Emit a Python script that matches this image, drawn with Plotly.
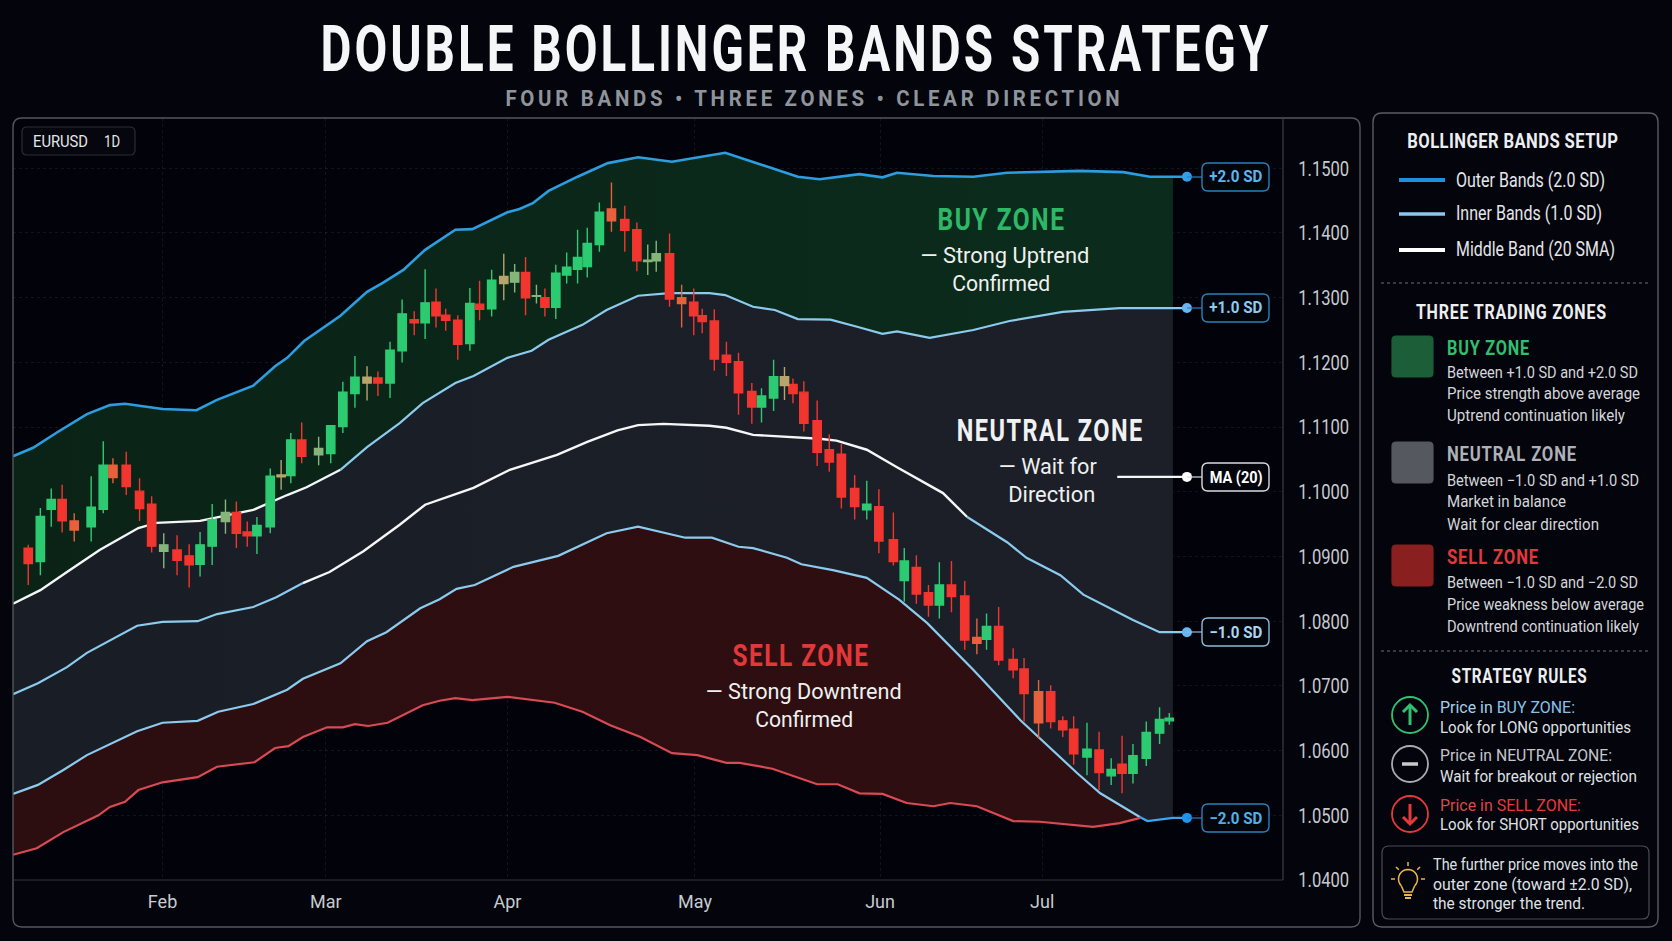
import json
import math
import plotly.graph_objects as go

WIDTH, HEIGHT = 1672, 941
BG = "#03040c"
FONT = "Roboto, sans-serif"

# Price scale and month ticks (x is measured in sessions from the first candle)
price_ticks = [1.04, 1.05, 1.06, 1.07, 1.08, 1.09, 1.10, 1.11, 1.12, 1.13, 1.14, 1.15]
month_pos = [11.1, 24.6, 39.6, 55.1, 70.4, 83.8]
month_labels = ["Feb", "Mar", "Apr", "May", "Jun", "Jul"]

# Candles
candle_pos = [0.0, 1.0, 1.9, 2.8, 3.8, 5.2, 6.2, 7.0, 8.1, 9.2, 10.2, 11.2, 12.3, 13.3, 14.2, 15.2, 16.3, 17.2, 18.1, 18.9,
              20.0, 20.9, 21.7, 22.6, 24.0, 25.0, 26.0, 27.0, 28.0, 28.9, 29.9, 30.9, 31.9, 32.8, 33.7, 34.5, 35.5, 36.5, 37.3, 38.3,
              39.3, 40.2, 41.1, 42.0, 42.7, 43.6, 44.5, 45.4, 46.2, 47.2, 48.2, 49.3, 50.3, 51.2, 51.9, 53.0, 54.0, 55.0, 55.7, 56.7,
              57.7, 58.7, 59.8, 60.6, 61.6, 62.5, 63.2, 64.1, 65.2, 66.2, 67.2, 68.3, 69.3, 70.3, 71.5, 72.4, 73.4, 74.4, 75.3, 76.3,
              77.4, 78.4, 79.2, 80.2, 81.4, 82.3, 83.5, 84.5, 85.5, 86.4, 87.5, 88.5, 89.5, 90.4, 91.3, 92.4, 93.5, 94.3]
candle_high = [1.0918, 1.0975, 1.1005, 1.1011, 1.0967, 1.1024, 1.1078, 1.1052, 1.1062, 1.1021, 1.0993, 1.0936, 1.0933, 1.0919, 1.0938, 1.0981, 1.0988, 1.0985, 1.0954, 1.0961,
               1.1036, 1.1049, 1.1091, 1.1107, 1.1085, 1.1103, 1.1170, 1.1210, 1.1194, 1.1186, 1.1232, 1.1297, 1.1279, 1.1344, 1.1314, 1.1283, 1.1273, 1.1315, 1.1326, 1.1343,
               1.1368, 1.1352, 1.1363, 1.1320, 1.1314, 1.1351, 1.1370, 1.1405, 1.1408, 1.1447, 1.1478, 1.1442, 1.1416, 1.1382, 1.1388, 1.1399, 1.1320, 1.1314, 1.1283, 1.1282,
               1.1232, 1.1215, 1.1168, 1.1160, 1.1204, 1.1193, 1.1175, 1.1171, 1.1141, 1.1089, 1.1074, 1.1026, 1.1017, 1.1004, 1.0968, 1.0913, 1.0902, 1.0856, 1.0891, 1.0893,
               1.0862, 1.0804, 1.0812, 1.0822, 1.0758, 1.0743, 1.0709, 1.0701, 1.0653, 1.0653, 1.0643, 1.0629, 1.0588, 1.0623, 1.0610, 1.0645, 1.0667, 1.0658]
candle_top = [1.0913, 1.0962, 1.0988, 1.0988, 1.0955, 1.0976, 1.1041, 1.1041, 1.1041, 1.1001, 1.0981, 1.0918, 1.0910, 1.0901, 1.0918, 1.0957, 1.0968, 1.0968, 1.0938, 1.0948,
              1.1024, 1.1026, 1.1080, 1.1080, 1.1067, 1.1102, 1.1154, 1.1177, 1.1177, 1.1176, 1.1219, 1.1275, 1.1266, 1.1292, 1.1293, 1.1273, 1.1265, 1.1291, 1.1290, 1.1327,
              1.1333, 1.1339, 1.1339, 1.1303, 1.1300, 1.1338, 1.1347, 1.1362, 1.1384, 1.1432, 1.1437, 1.1421, 1.1405, 1.1358, 1.1368, 1.1368, 1.1300, 1.1293, 1.1272, 1.1264,
              1.1211, 1.1201, 1.1155, 1.1148, 1.1178, 1.1178, 1.1166, 1.1154, 1.1110, 1.1065, 1.1058, 1.1005, 1.0981, 1.0977, 1.0926, 1.0893, 1.0883, 1.0844, 1.0856, 1.0856,
              1.0839, 1.0775, 1.0792, 1.0792, 1.0741, 1.0726, 1.0691, 1.0691, 1.0646, 1.0633, 1.0602, 1.0601, 1.0571, 1.0579, 1.0592, 1.0628, 1.0648, 1.0650]
candle_bottom = [1.0889, 1.0892, 1.0973, 1.0955, 1.0941, 1.0946, 1.0973, 1.1022, 1.1008, 1.0974, 1.0916, 1.0908, 1.0894, 1.0887, 1.0888, 1.0916, 1.0954, 1.0936, 1.0932, 1.0932,
                 1.0946, 1.1023, 1.1025, 1.1055, 1.1057, 1.1059, 1.1101, 1.1152, 1.1168, 1.1168, 1.1168, 1.1218, 1.1261, 1.1261, 1.1272, 1.1265, 1.1228, 1.1229, 1.1282, 1.1283,
                 1.1322, 1.1324, 1.1300, 1.1302, 1.1285, 1.1285, 1.1335, 1.1344, 1.1348, 1.1382, 1.1419, 1.1404, 1.1357, 1.1356, 1.1357, 1.1298, 1.1291, 1.1272, 1.1263, 1.1205,
                 1.1200, 1.1153, 1.1131, 1.1131, 1.1145, 1.1164, 1.1152, 1.1106, 1.1061, 1.1046, 1.0992, 1.0977, 1.0972, 1.0924, 1.0892, 1.0863, 1.0842, 1.0825, 1.0825, 1.0838,
                 1.0771, 1.0766, 1.0772, 1.0740, 1.0725, 1.0688, 1.0643, 1.0645, 1.0632, 1.0595, 1.0590, 1.0566, 1.0561, 1.0565, 1.0565, 1.0588, 1.0627, 1.0646]
candle_low = [1.0856, 1.0871, 1.0946, 1.0937, 1.0923, 1.0923, 1.0967, 1.1013, 1.0995, 1.0955, 1.0906, 1.0882, 1.0871, 1.0852, 1.0869, 1.0887, 1.0935, 1.0913, 1.0915, 1.0904,
              1.0936, 1.1003, 1.1013, 1.1044, 1.1041, 1.1044, 1.1091, 1.1130, 1.1141, 1.1148, 1.1145, 1.1200, 1.1242, 1.1236, 1.1254, 1.1249, 1.1204, 1.1218, 1.1265, 1.1271,
              1.1296, 1.1308, 1.1273, 1.1291, 1.1271, 1.1267, 1.1322, 1.1322, 1.1331, 1.1371, 1.1402, 1.1371, 1.1341, 1.1335, 1.1340, 1.1286, 1.1254, 1.1242, 1.1245, 1.1187,
              1.1179, 1.1119, 1.1105, 1.1107, 1.1125, 1.1142, 1.1137, 1.1093, 1.1040, 1.1031, 1.0974, 1.0957, 1.0957, 1.0905, 1.0886, 1.0830, 1.0827, 1.0807, 1.0804, 1.0814,
              1.0756, 1.0749, 1.0756, 1.0732, 1.0712, 1.0645, 1.0619, 1.0634, 1.0621, 1.0578, 1.0562, 1.0539, 1.0547, 1.0534, 1.0549, 1.0576, 1.0610, 1.0640]
candle_tone = list(
    "rggroggorr" "rsrrggsrrg" "gtgrsgggtr" "ggrgrrrgrg" "tsrsrggggg"
    "orrssrorrr" "rrrggtrrrr" "rrgrrgrrgr" "rogrrrorrr" "grgrgggg"
)

# Band readings: session position and price for each of the five lines
upper_outer_x = [-1.26, 0.4, 2.4, 4.85, 6.75, 8.0, 11.1, 13.9, 15.6, 18.6, 20.4, 21.4, 22.8, 25.8, 28.0, 29.3, 31.0, 32.8, 35.3, 36.7,
                 39.6, 40.6, 41.7, 43.0, 45.4, 47.9, 50.4, 53.2, 57.6, 61.9, 63.6, 65.4, 68.7, 70.6, 71.8, 74.8, 78.1, 80.9, 86.9, 90.5, 92.7, 94.6, 95.76]
upper_outer_y = [1.1055, 1.1068, 1.1092, 1.1120, 1.1134, 1.1136, 1.1128, 1.1126, 1.1142, 1.1164, 1.1194, 1.1207, 1.1233, 1.1272, 1.1309, 1.1323, 1.1343, 1.1374, 1.1405, 1.1406,
                 1.1432, 1.1437, 1.1446, 1.1465, 1.1487, 1.1508, 1.1517, 1.1510, 1.1524, 1.1497, 1.1487, 1.1483, 1.1491, 1.1486, 1.1493, 1.1488, 1.1487, 1.1493, 1.1496, 1.1494, 1.1487, 1.1487, 1.1487]
upper_inner_x = [-1.26, 1.0, 3.2, 5.9, 9.1, 10.6, 14.2, 18.6, 21.4, 23.0, 25.8, 28.0, 29.6, 30.7, 32.6, 35.3, 36.8, 39.6, 41.6, 43.0,
                 45.8, 47.8, 50.4, 53.0, 56.3, 57.6, 59.9, 61.7, 63.6, 66.3, 68.5, 70.6, 71.8, 74.5, 78.1, 81.1, 85.5, 90.2, 93.5, 94.6, 95.76]
upper_inner_y = [1.0827, 1.0848, 1.0876, 1.0910, 1.0944, 1.0952, 1.0955, 1.0972, 1.0995, 1.1007, 1.1034, 1.1069, 1.1091, 1.1106, 1.1137, 1.1168, 1.1179, 1.1207, 1.1218, 1.1235,
                 1.1258, 1.1281, 1.1303, 1.1307, 1.1307, 1.1304, 1.1286, 1.1281, 1.1267, 1.1266, 1.1255, 1.1244, 1.1248, 1.1238, 1.1250, 1.1264, 1.1278, 1.1284, 1.1284, 1.1284, 1.1284]
middle_x = [-1.26, 0.8, 3.2, 4.85, 9.0, 11.1, 14.0, 15.6, 18.6, 20.5, 22.7, 24.9, 27.7, 30.7, 32.8, 35.1, 36.8, 39.8, 43.7, 46.2,
            48.7, 50.4, 52.5, 56.3, 57.7, 59.9, 63.2, 65.4, 66.8, 69.3, 71.8, 75.6, 77.6, 80.9, 82.5, 85.3, 87.2, 91.3, 93.5, 94.6, 95.76]
middle_y = [1.0687, 1.0704, 1.0729, 1.0751, 1.0793, 1.0799, 1.0800, 1.0811, 1.0822, 1.0837, 1.0859, 1.0876, 1.0908, 1.0949, 1.0980, 1.0995, 1.1006, 1.1034, 1.1057, 1.1077,
            1.1095, 1.1103, 1.1105, 1.1102, 1.1099, 1.1088, 1.1085, 1.1082, 1.1079, 1.1065, 1.1038, 1.0998, 1.0961, 1.0922, 1.0898, 1.0871, 1.0841, 1.0802, 1.0783, 1.0783, 1.0783]
lower_inner_x = [-1.26, 0.8, 2.9, 4.85, 9.0, 11.1, 14.0, 15.7, 18.6, 21.4, 22.7, 25.8, 28.0, 29.6, 32.4, 34.0, 35.4, 36.9, 40.1, 43.8,
                 47.8, 50.4, 54.3, 56.5, 58.7, 59.9, 62.7, 63.9, 66.5, 69.3, 72.0, 74.3, 78.1, 82.0, 86.7, 88.6, 91.9, 92.5, 94.6, 95.76]
lower_inner_y = [1.0533, 1.0547, 1.0570, 1.0593, 1.0630, 1.0643, 1.0646, 1.0660, 1.0672, 1.0694, 1.0711, 1.0735, 1.0769, 1.0783, 1.0820, 1.0834, 1.0850, 1.0856, 1.0884, 1.0901,
                 1.0936, 1.0946, 1.0929, 1.0929, 1.0915, 1.0913, 1.0898, 1.0888, 1.0879, 1.0867, 1.0833, 1.0797, 1.0725, 1.0647, 1.0565, 1.0534, 1.0497, 1.0491, 1.0496, 1.0496]
lower_outer_x = [-1.26, 0.7, 2.9, 4.5, 5.8, 6.75, 8.0, 9.1, 11.1, 14.0, 15.6, 18.7, 20.4, 21.5, 22.7, 24.7, 26.0, 27.0, 28.1, 29.7,
                 32.6, 34.0, 35.3, 36.7, 39.6, 43.5, 45.8, 48.1, 50.6, 53.2, 55.3, 57.7, 58.8, 61.5, 63.6, 65.2, 66.9, 68.7, 70.6, 72.6,
                 74.8, 76.2, 78.4, 81.4, 83.6, 88.0, 90.2, 91.9]
lower_outer_y = [1.0439, 1.0449, 1.0474, 1.0488, 1.0500, 1.0513, 1.0521, 1.0539, 1.0551, 1.0559, 1.0575, 1.0582, 1.0604, 1.0607, 1.0621, 1.0636, 1.0636, 1.0641, 1.0638, 1.0643,
                 1.0670, 1.0677, 1.0681, 1.0678, 1.0683, 1.0674, 1.0660, 1.0639, 1.0621, 1.0596, 1.0593, 1.0581, 1.0581, 1.0572, 1.0558, 1.0548, 1.0548, 1.0534, 1.0533, 1.0519,
                 1.0514, 1.0519, 1.0514, 1.0491, 1.0490, 1.0482, 1.0488, 1.0496]

ma_label_x = [90.0, 95.76]
ma_label_y = [1.1023, 1.1023]

# Limits of the shaded zones on the session scale
fill_end = 94.6
sell_end = 91.9
upper_inner_white_until = 25.8
middle_white_from = 22.7
middle_white_until = 77.6

C_OUTER, C_INNER, C_WHITE, C_SELL = "#2c9ee0", "#8ccbee", "#f4f6f8", "#d94a55"
TONES = {"g": "#2ccb72", "r": "#f2352f", "s": "#86b57c", "t": "#b7a56c", "o": "#e8603c"}
FALLING = {"r", "o"}


def px(x):
    return x / WIDTH


def py(y):
    return 1 - y / HEIGHT


def clip(xs, ys, limit):
    pairs = [(a, b) for a, b in zip(xs, ys) if a <= limit]
    return [p[0] for p in pairs], [p[1] for p in pairs]


def between(xs, ys, lo, hi):
    pairs = [(a, b) for a, b in zip(xs, ys) if lo <= a <= hi]
    return [p[0] for p in pairs], [p[1] for p in pairs]


fig = go.Figure()


def zone(xa, ya, xb, yb, left, right):
    fig.add_trace(go.Scatter(x=xa, y=ya, mode="lines", line=dict(width=0), hoverinfo="skip"))
    fig.add_trace(go.Scatter(x=xb, y=yb, mode="lines", line=dict(width=0), fill="tonexty", hoverinfo="skip",
                             fillgradient=dict(type="horizontal", colorscale=[[0, left], [1, right]])))


def band_line(xs, ys, color, width=2.2):
    fig.add_trace(go.Scatter(x=xs, y=ys, mode="lines", line=dict(color=color, width=width), hoverinfo="skip"))


zone(*clip(upper_outer_x, upper_outer_y, fill_end), *clip(upper_inner_x, upper_inner_y, fill_end), "#0a2316", "#0b2c1c")
zone(*clip(upper_inner_x, upper_inner_y, fill_end), *clip(lower_inner_x, lower_inner_y, fill_end), "#191e26", "#1c1f27")
zone(*clip(lower_inner_x, lower_inner_y, sell_end), *clip(lower_outer_x, lower_outer_y, sell_end), "#2d0e10", "#2e0e10")

band_line(upper_outer_x, upper_outer_y, C_OUTER, 2.6)
band_line(*between(upper_inner_x, upper_inner_y, -2, upper_inner_white_until), C_WHITE, 2.4)
band_line(*between(upper_inner_x, upper_inner_y, upper_inner_white_until, 99), C_INNER, 2.2)
band_line(*between(middle_x, middle_y, -2, middle_white_from), C_INNER, 2.2)
band_line(*between(middle_x, middle_y, middle_white_from, middle_white_until), C_WHITE, 2.4)
band_line(*between(middle_x, middle_y, middle_white_until, 99), C_INNER, 2.2)
band_line(*between(lower_inner_x, lower_inner_y, -2, sell_end), C_INNER, 2.2)
band_line(*between(lower_inner_x, lower_inner_y, sell_end, 99), "#3ca6ee", 2.4)
band_line(lower_outer_x, lower_outer_y, C_SELL, 2.2)
band_line(ma_label_x, ma_label_y, C_WHITE, 2.4)

# Line-end dots beside the band tags
for y_value, colour in [(upper_outer_y[-1], "#2f9ff0"), (upper_inner_y[-1], "#68b6f2"), (ma_label_y[-1], "#ffffff"),
                        (middle_y[-1], "#68b6f2"), (lower_inner_y[-1], "#1f95ee")]:
    fig.add_trace(go.Scatter(x=[95.76], y=[y_value], mode="markers",
                             marker=dict(color=colour, size=10), hoverinfo="skip"))

# Candles sit on an overlaid axis pair so they draw above the zone fills.
# They are split by tone so muted sessions keep their own colour.
for tone, colour in TONES.items():
    idx = [i for i, t in enumerate(candle_tone) if t == tone]
    opens = [candle_top[i] if tone in FALLING else candle_bottom[i] for i in idx]
    closes = [candle_bottom[i] if tone in FALLING else candle_top[i] for i in idx]
    fig.add_trace(go.Candlestick(
        x=[candle_pos[i] for i in idx], open=opens, high=[candle_high[i] for i in idx],
        low=[candle_low[i] for i in idx], close=closes, xaxis="x2", yaxis="y2",
        increasing=dict(line=dict(color=colour, width=1.4), fillcolor=colour),
        decreasing=dict(line=dict(color=colour, width=1.4), fillcolor=colour),
        whiskerwidth=0, hoverinfo="skip",
    ))

shapes = []


def rrect(x0, y0, x1, y1, r, line, fill="rgba(0,0,0,0)", width=1.2, layer="above"):
    p = [("M", x0 + r, y0), ("L", x1 - r, y0), ("Q", x1, y0, x1, y0 + r), ("L", x1, y1 - r), ("Q", x1, y1, x1 - r, y1),
         ("L", x0 + r, y1), ("Q", x0, y1, x0, y1 - r), ("L", x0, y0 + r), ("Q", x0, y0, x0 + r, y0)]
    path = ""
    for part in p:
        nums = part[1:]
        coords = []
        for i in range(0, len(nums), 2):
            coords.append(f"{px(nums[i]):.5f},{py(nums[i + 1]):.5f}")
        path += part[0] + " ".join(coords) + " "
    shapes.append(dict(type="path", xref="paper", yref="paper", path=path + "Z", line=dict(color=line, width=width),
                       fillcolor=fill, layer=layer))


def seg(x0, y0, x1, y1, color, width=1.0, dash=None, layer="above"):
    shapes.append(dict(type="line", xref="paper", yref="paper", x0=px(x0), y0=py(y0), x1=px(x1), y1=py(y1),
                       line=dict(color=color, width=width, dash=dash or "solid"), layer=layer))


def poly(points, color, width=1.6):
    path = "M" + " L".join(f"{px(a):.5f},{py(b):.5f}" for a, b in points)
    shapes.append(dict(type="path", xref="paper", yref="paper", path=path, line=dict(color=color, width=width),
                       fillcolor="rgba(0,0,0,0)", layer="above"))


def circle(cx, cy, r, color, width=1.8):
    shapes.append(dict(type="circle", xref="paper", yref="paper", x0=px(cx - r), x1=px(cx + r), y0=py(cy + r), y1=py(cy - r),
                       line=dict(color=color, width=width), fillcolor="rgba(0,0,0,0)", layer="above"))


annotations = []
text_fits = []


def txt(x, y, text, size, length, color="#e4e6ea", anchor="left", bold=False, track=0):
    annotations.append(dict(xref="paper", yref="paper", x=px(x), y=py(y), text=f"<b>{text}</b>" if bold else text,
                            showarrow=False, xanchor=anchor, yanchor="middle",
                            font=dict(family=FONT, size=size, color=color), align=anchor))
    text_fits.append([length, track])


# Chart frame, axis rules and timeframe tag
rrect(13, 118, 1360, 927, 9, "#54575c", width=1.4)
seg(1283, 118, 1283, 880, "#3c3f45", 1.2)
seg(13, 880, 1283, 880, "#33363c", 1.0)
rrect(22, 127, 135, 155, 5, "#2b2e34", fill="#06070e")
txt(31, 141, "EURUSD", 16.5, 55)
txt(102, 141, "1D", 16.5, 16)

# Heading
txt(796, 50, "DOUBLE BOLLINGER BANDS STRATEGY", 64, 951, "#f5f6f7", "center", True, 4)
txt(814, 98, "FOUR BANDS • THREE ZONES • CLEAR DIRECTION", 22, 618, "#8f949b", "center", True, 4)

# Zone captions on the chart
txt(1001, 219, "BUY ZONE", 32, 128, "#2fb768", "center", True, 2)
txt(1005, 255, "— Strong Uptrend", 22.5, 169, "#eef0f0", "center")
txt(1001, 283, "Confirmed", 22.5, 98, "#eef0f0", "center")
txt(1050, 430, "NEUTRAL ZONE", 32, 187, "#f0f1f2", "center", True, 2)
txt(1048, 466, "— Wait for", 22.5, 98, "#eef0f0", "center")
txt(1051, 494, "Direction", 22.5, 87, "#eef0f0", "center")
txt(801, 655, "SELL ZONE", 32, 137, "#e2383a", "center", True, 2)
txt(804, 691, "— Strong Downtrend", 22.5, 196, "#eef0f0", "center")
txt(804, 719, "Confirmed", 22.5, 98, "#eef0f0", "center")

# Tags at the right end of each band
for cy, label, edge, ink in [(177, "+2.0 SD", "#2c80b8", "#5ab6ee"), (308, "+1.0 SD", "#2c80b8", "#8ccbee"),
                             (477, "MA (20)", "#d8dadd", "#ffffff"), (632, "−1.0 SD", "#8fbcd8", "#a9d6ee"),
                             (818, "−2.0 SD", "#2c80b8", "#4fb0e8")]:
    seg(1187, cy, 1202, cy, edge, 1.2)
    rrect(1202, cy - 14, 1269, cy + 14, 6, edge, fill="#03050d", width=1.4)
    txt(1235.5, cy, label, 16.5, 53, ink, "center", True)

# Side panel
rrect(1373, 113, 1658, 927, 9, "#5a5d62", width=1.4)
txt(1513, 141, "BOLLINGER BANDS SETUP", 20, 211, "#eceef0", "center", True, 0.5)
for ly, col, lw, label, length in [(180, "#1f8fe0", 4, "Outer Bands (2.0 SD)", 149), (214, "#8cc6ee", 3.5, "Inner Bands (1.0 SD)", 146),
                                   (250, "#ffffff", 4, "Middle Band (20 SMA)", 159)]:
    seg(1399, ly, 1445, ly, col, lw)
    txt(1454, ly, label, 19.5, length)
seg(1381, 283, 1650, 283, "#6b6e73", 1.2, "dot")
txt(1511, 312, "THREE TRADING ZONES", 21, 191, "#eceef0", "center", True, 1)

for top, swatch, title, title_col, title_len, rows, ys in [
    (336, "#1c5e38", "BUY ZONE", "#2fbf6e", 83,
     [("Between +1.0 SD and +2.0 SD", 191), ("Price strength above average", 193), ("Uptrend continuation likely", 178)], [348, 373, 394, 415]),
    (442, "#55585f", "NEUTRAL ZONE", "#aeb1b8", 130,
     [("Between −1.0 SD and +1.0 SD", 192), ("Market in balance", 119), ("Wait for clear direction", 152)], [454, 480, 502, 524]),
    (545, "#8a1f20", "SELL ZONE", "#e0393b", 92,
     [("Between −1.0 SD and −2.0 SD", 191), ("Price weakness below average", 197), ("Downtrend continuation likely", 192)], [557, 582, 604, 626]),
]:
    rrect(1392, top, 1433, top + 41, 4, swatch, fill=swatch)
    txt(1445, ys[0], title, 20.5, title_len, title_col, bold=True, track=1)
    for y_line, (line, length) in zip(ys[1:], rows):
        txt(1445, y_line, line, 16, length, "#d4d6da")

seg(1381, 651, 1650, 651, "#6b6e73", 1.2, "dot")
txt(1519, 676, "STRATEGY RULES", 21, 136, "#eceef0", "center", True, 1)

# Direction badges
circle(1410, 715, 18, "#2fc270")
poly([(1410, 725), (1410, 705)], "#2fc270", 3)
poly([(1403, 712), (1410, 705), (1417, 712)], "#2fc270", 3)
circle(1410, 764, 18, "#a9abae")
poly([(1402, 764), (1418, 764)], "#c8cacc", 3.5)
circle(1410, 814, 18, "#e53a3a")
poly([(1410, 804), (1410, 824)], "#e53a3a", 3)
poly([(1403, 817), (1410, 824), (1417, 817)], "#e53a3a", 3)

txt(1437.5, 707, "Price in <span style='color:#86c2e8'>BUY ZONE:</span>", 16.5, 135, "#a3d0ea")
txt(1437.5, 727, "Look for LONG opportunities", 16.5, 191, "#dfe1e4")
txt(1437.5, 755, "Price in NEUTRAL ZONE:", 16.5, 172, "#c4c6ca")
txt(1437.5, 776, "Wait for breakout or rejection", 16.5, 197, "#dfe1e4")
txt(1437.5, 805, "Price in <span style='color:#e8383a'>SELL ZONE:</span>", 16.5, 141, "#d9484a")
txt(1437.5, 824, "Look for SHORT opportunities", 16.5, 199, "#dfe1e4")

# Tip box with a small lightbulb
rrect(1382, 846, 1649, 919, 7, "#4a4d52", width=1.2)
BULB = "#eeb544"
poly([(1408 + 9.5 * math.cos(math.radians(a)), 879 + 9.5 * math.sin(math.radians(a))) for a in range(135, 406, 15)], BULB, 1.5)
poly([(1401.3, 885.7), (1404, 892), (1412, 892), (1414.7, 885.7)], BULB, 1.5)
poly([(1404, 895), (1412, 895)], BULB, 2)
poly([(1405, 898), (1411, 898)], BULB, 2)
for a in (180, 225, 270, 315, 360):
    ca, sa = math.cos(math.radians(a)), math.sin(math.radians(a))
    poly([(1408 + 13 * ca, 879 + 13 * sa), (1408 + 17 * ca, 879 + 17 * sa)], BULB, 1.5)
txt(1431, 864, "The further price moves into the", 16, 205, "#dfe1e4")
txt(1431, 884, "outer zone (toward ±2.0 SD),", 16, 199, "#dfe1e4")
txt(1431, 903, "the stronger the trend.", 16, 152, "#dfe1e4")

x_range = [-1.26, 103.7]
y_range = [1.04, 1.15777]
x_domain = [px(13), px(1283)]
y_domain = [py(880), py(118)]

fig.update_layout(
    width=WIDTH, height=HEIGHT, autosize=False, showlegend=False, hovermode=False,
    paper_bgcolor=BG, plot_bgcolor="#02030a", margin=dict(l=0, r=0, t=0, b=0, pad=0),
    font=dict(family=FONT, color="#d0d3d8"), boxgap=0.02, boxgroupgap=0,
    shapes=shapes, annotations=annotations,
    xaxis=dict(domain=x_domain, range=x_range, type="linear", rangeslider=dict(visible=False), automargin=False,
               tickmode="array", tickvals=month_pos, ticktext=month_labels, showgrid=True, griddash="dot",
               gridcolor="rgba(255,255,255,0.07)", gridwidth=1, zeroline=False, showline=False,
               ticks="outside", ticklen=5, tickcolor="rgba(0,0,0,0)", tickfont=dict(size=18, color="#c8cbd0", family=FONT)),
    yaxis=dict(domain=y_domain, range=y_range, side="right", tickmode="array", tickvals=price_ticks, automargin=False,
               tickformat=".4f", showgrid=True, griddash="dot", gridcolor="rgba(255,255,255,0.07)", gridwidth=1,
               zeroline=False, showline=False, ticks="outside", ticklen=10, tickcolor="rgba(0,0,0,0)",
               tickfont=dict(size=21, color="#c8cbd0", family=FONT)),
    xaxis2=dict(domain=x_domain, range=x_range, type="linear", overlaying="x", anchor="y2", visible=False,
                rangeslider=dict(visible=False), automargin=False),
    yaxis2=dict(domain=y_domain, range=y_range, overlaying="y", anchor="x2", visible=False, automargin=False),
)

# Condensed, tracked lettering: each caption is fitted to its measured run length
fit_script = """
var fits = %s;
function fit(el, len, track) {
    if (track) { el.style.letterSpacing = track + 'px'; }
    el.setAttribute('textLength', len);
    el.setAttribute('lengthAdjust', 'spacingAndGlyphs');
}
fits.forEach(function (f, i) {
    var el = document.querySelector('.annotation[data-index="' + i + '"] text');
    if (el) { fit(el, f[0], f[1]); }
});
document.querySelectorAll('.ytick text').forEach(function (el) { fit(el, 51, 0); });
""" % json.dumps(text_fits)
fig.write_html("out.html", config=dict(displayModeBar=False), post_script=fit_script)
